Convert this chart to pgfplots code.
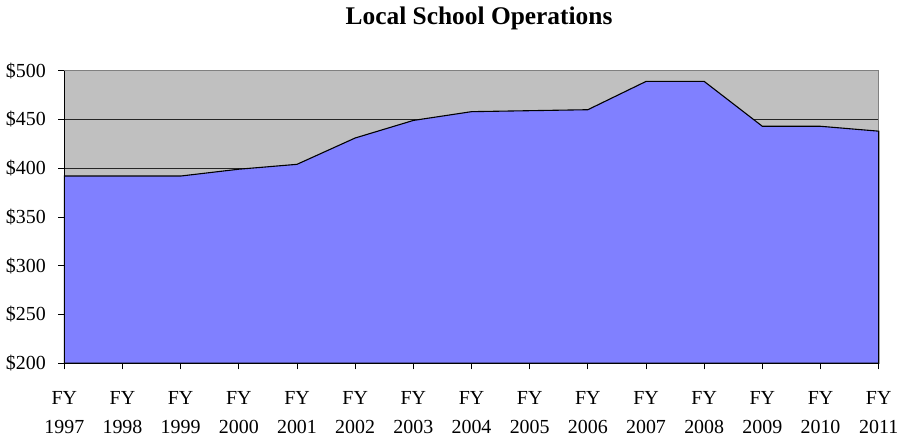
\documentclass[border=0pt]{standalone}
\usepackage{pgfplots}
\pgfplotsset{compat=1.18}
\usepackage{fontspec}
\setmainfont{Liberation Serif}
\definecolor{areablue}{HTML}{8080FF}
\definecolor{bggray}{HTML}{C0C0C0}
\definecolor{framegray}{HTML}{808080}
\pgfplotstableread{
x y
0 392
1 392
2 392
3 399
4 404
5 431
6 449
7 458
8 459
9 460
10 489
11 489
12 443
13 443
14 438
}\localdata
\begin{document}
\begin{tikzpicture}
\begin{axis}[
  at={(64.3bp,78.7bp)}, anchor=south west,
  scale only axis, width=814.4bp, height=292.6bp,
  xmin=0, xmax=14, ymin=200, ymax=500,
  clip=false,
  axis background/.style={fill=bggray},
  axis line style={draw=none},
  xtick={0,...,14},
  xticklabels={{FY\\1997},{FY\\1998},{FY\\1999},{FY\\2000},{FY\\2001},{FY\\2002},{FY\\2003},{FY\\2004},{FY\\2005},{FY\\2006},{FY\\2007},{FY\\2008},{FY\\2009},{FY\\2010},{FY\\2011}},
  xticklabel style={align=center, font=\fontsize{20}{29}\selectfont, yshift=-19bp},
  ytick={200,250,...,500},
  yticklabels={\$200,\$250,\$300,\$350,\$400,\$450,\$500},
  yticklabel style={font=\fontsize{20}{24}\selectfont, xshift=-9bp},
  ymajorgrids,
  grid style={black!85, line width=0.9bp},
  tick align=outside, xtick pos=bottom, ytick pos=left,
  major tick length=6bp,
  tick style={black, line width=0.8bp},
]
\draw[framegray, line width=1.3bp] (rel axis cs:0,1) -- (rel axis cs:1,1) -- (rel axis cs:1,0);
\addplot[fill=areablue, draw=black, line width=1.1bp] table[x=x, y=y] {\localdata} \closedcycle;
\draw[black, line width=1.3bp] (rel axis cs:0,1) -- (rel axis cs:0,0) -- (rel axis cs:1,0);
\end{axis}
\node[anchor=base, font=\bfseries\fontsize{25.5}{30}\selectfont] at (479bp,417bp) {Local School Operations};
\pgfresetboundingbox
\useasboundingbox (0,0) rectangle (899bp,442bp);
\end{tikzpicture}
\end{document}
